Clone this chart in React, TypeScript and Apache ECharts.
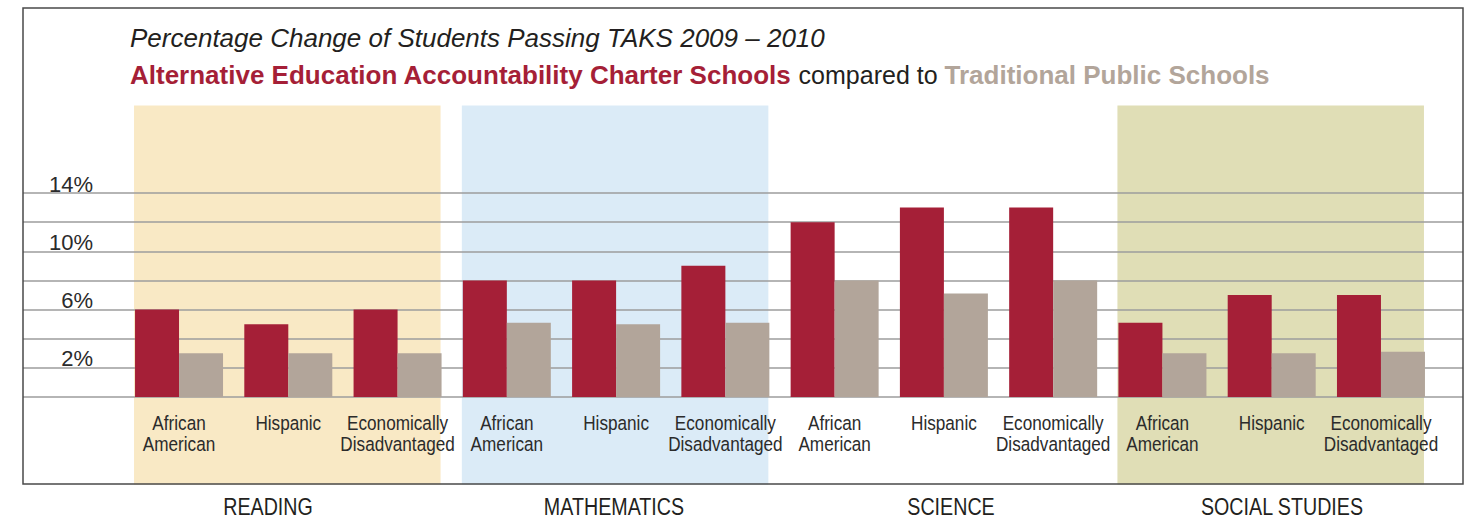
import React, { useEffect, useRef } from "react";
import * as echarts from "echarts";

const categories = [
  "African\nAmerican", "Hispanic", "Economically\nDisadvantaged",
  "African\nAmerican", "Hispanic", "Economically\nDisadvantaged",
  "African\nAmerican", "Hispanic", "Economically\nDisadvantaged",
  "African\nAmerican", "Hispanic", "Economically\nDisadvantaged",
];
const subjects = ["READING", "MATHEMATICS", "SCIENCE", "SOCIAL STUDIES"];
const subjectX = [268, 614, 951, 1282];
const charterValues = [6, 5, 6, 8, 8, 9, 12, 13, 13, 5.1, 7, 7];
const traditionalValues = [3, 3, 3, 5.1, 5, 5.1, 8, 7.1, 8, 3, 3, 3.1];
const yTicks = [2, 6, 10, 14];
// bands: [first category index, last category index, colour]
const bands: [number, number, string][] = [
  [0, 2, "#f9e9c5"],
  [3, 5, "#dbebf7"],
  [9, 11, "#e0deb6"],
];

const RED = "#a51f37";
const TAN = "#b2a59a";
const SANS = "'Liberation Sans', Arial, sans-serif";

export default function App() {
  const ref = useRef<HTMLDivElement>(null);
  useEffect(() => {
    document.body.style.margin = "0";
    const chart = echarts.init(ref.current!, undefined, { renderer: "svg" });
    const option: any = {
      animation: false,
      backgroundColor: "#ffffff",
      grid: [
        { left: 124.4, right: 44.4, top: 193, bottom: 124 },
        { left: 23, right: 17, top: 193, bottom: 124 },
      ],
      xAxis: [
        {
          type: "category",
          gridIndex: 0,
          data: categories,
          axisLine: { show: false },
          axisTick: { show: false },
          axisLabel: { show: false },
        },
        { type: "value", gridIndex: 1, show: false, min: 0, max: 1 },
      ],
      yAxis: [
        { type: "value", gridIndex: 0, min: 0, max: 14, interval: 2, show: false },
        {
          type: "value",
          gridIndex: 1,
          min: 0,
          max: 14,
          interval: 2,
          axisLine: { show: false },
          axisTick: { show: false },
          splitLine: { show: true, lineStyle: { color: "#9d9d9d", width: 1.5 } },
          axisLabel: {
            inside: true,
            margin: 70,
            align: "right",
            verticalAlign: "bottom",
            lineHeight: 18,
            color: "#2b2b2b",
            fontFamily: SANS,
            fontSize: 22,
            formatter: (v: number) => (yTicks.includes(v) ? v + "%" : ""),
          },
        },
      ],
      series: [
        {
          type: "custom",
          xAxisIndex: 0,
          yAxisIndex: 0,
          z: -1,
          clip: false,
          silent: true,
          data: bands.map((b) => [b[0], b[1]]),
          renderItem: (params: any, api: any) => {
            const i = params.dataIndex;
            const x0 = api.coord([api.value(0), 0])[0] - 45;
            const x1 = api.coord([api.value(1), 0])[0] + 43;
            const yTop = api.coord([0, 20])[1];
            const yBot = api.coord([0, -6])[1];
            return {
              type: "rect",
              shape: { x: x0, y: yTop, width: x1 - x0, height: yBot - yTop },
              style: { fill: bands[i][2] },
            };
          },
        },
        {
          type: "bar",
          name: "Alternative Education Accountability Charter Schools",
          data: charterValues,
          barWidth: 44,
          barGap: "0%",
          itemStyle: { color: RED },
          z: 3,
        },
        {
          type: "bar",
          name: "Traditional Public Schools",
          data: traditionalValues,
          barWidth: 44,
          barGap: "0%",
          itemStyle: { color: TAN },
          z: 3,
        },
        {
          type: "custom",
          xAxisIndex: 0,
          yAxisIndex: 0,
          z: 4,
          clip: false,
          silent: true,
          data: categories.map((_, i) => [i, 0]),
          renderItem: (params: any, api: any) => {
            const p = api.coord([api.value(0), 0]);
            return {
              type: "text",
              x: p[0],
              y: p[1] + 16,
              scaleX: 0.88,
              style: {
                text: categories[params.dataIndex],
                fontFamily: SANS,
                fontSize: 19.5,
                lineHeight: 21,
                fill: "#2b2b2b",
                align: "center",
                verticalAlign: "top",
              },
            };
          },
        },
      ],
      graphic: [
        {
          type: "rect",
          z: 10,
          shape: { x: 23, y: 8, width: 1440, height: 476 },
          style: { fill: "none", stroke: "#4a4a4a", lineWidth: 1.5 },
        },
        {
          type: "text",
          x: 130,
          y: 38,
          style: {
            text: "Percentage Change of Students Passing TAKS 2009 – 2010",
            fontFamily: SANS,
            fontStyle: "italic",
            fontSize: 26,
            fill: "#231f20",
            verticalAlign: "middle",
          },
        },
        {
          type: "text",
          x: 130,
          y: 75,
          style: {
            text: "{a|Alternative Education Accountability Charter Schools}{b| compared to }{c|Traditional Public Schools}",
            verticalAlign: "middle",
            rich: {
              a: { fontFamily: SANS, fontWeight: "bold", fontSize: 26, fill: RED, color: RED },
              b: { fontFamily: SANS, fontSize: 25, fill: "#231f20", color: "#231f20" },
              c: { fontFamily: SANS, fontWeight: "bold", fontSize: 26, fill: TAN, color: TAN },
            },
          },
        },
        ...subjects.map((s, i) => ({
          type: "text",
          x: subjectX[i],
          y: 507,
          scaleX: 0.82,
          style: {
            text: s,
            fontFamily: SANS,
            fontSize: 24,
            fill: "#231f20",
            align: "center",
            verticalAlign: "middle",
          },
        })),
      ],
    };
    chart.setOption(option);
    return () => chart.dispose();
  }, []);
  return <div ref={ref} style={{ width: 1480, height: 521 }} />;
}
